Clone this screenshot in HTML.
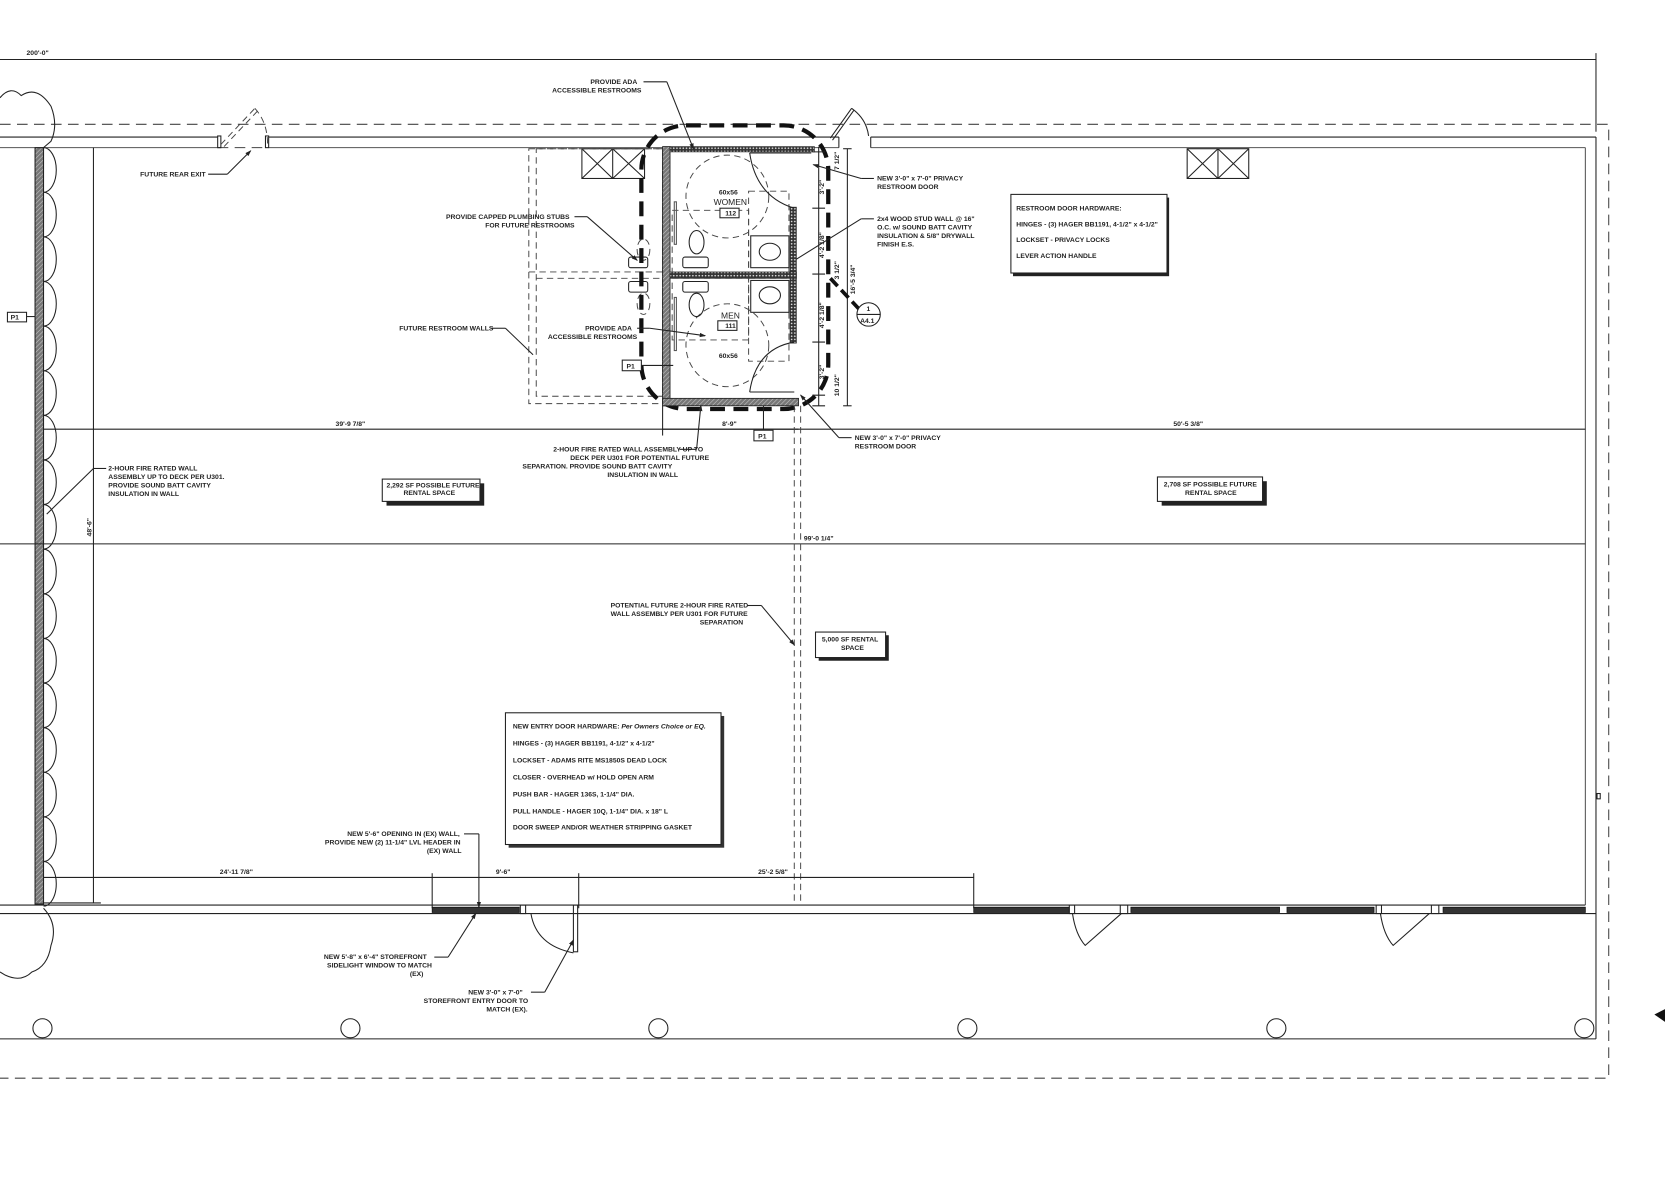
<!DOCTYPE html>
<html><head><meta charset="utf-8"><style>
html,body{margin:0;padding:0;background:#fff;}
svg{display:block;}
text{font-family:"Liberation Sans",sans-serif;font-size:6.4px;font-weight:bold;fill:#222;}
.s{stroke:#222;fill:none;stroke-width:1;}
.w{stroke:#222;fill:#fff;stroke-width:1;}
.g{stroke:#555;fill:none;stroke-width:1;}
.d{stroke:#444;fill:none;stroke-width:1;stroke-dasharray:10 6;}
.dt{stroke:#444;fill:none;stroke-width:0.9;stroke-dasharray:6 4;}
</style></head><body>
<svg width="1665" height="1177" viewBox="0 0 1568 1108" preserveAspectRatio="none" xmlns="http://www.w3.org/2000/svg">
<defs>
<pattern id="h" width="3" height="3" patternUnits="userSpaceOnUse" patternTransform="rotate(45)"><rect width="3" height="3" fill="#777"/><line x1="0" y1="0" x2="0" y2="3" stroke="#ccc" stroke-width="1"/></pattern>
<pattern id="dots" width="3" height="3" patternUnits="userSpaceOnUse"><rect width="3" height="3" fill="#333"/><circle cx="1.5" cy="1.5" r="0.8" fill="#ddd"/></pattern>
<marker id="ar" markerWidth="6" markerHeight="6" refX="5" refY="3" orient="auto"><path d="M0,1 L6,3 L0,5z" fill="#222"/></marker>
</defs>
<rect width="1568" height="1108" fill="#fff"/>

<line class="s" x1="0" y1="56" x2="1503" y2="56"/>
<line class="s" x1="1503" y1="50" x2="1503" y2="124"/>
<text x="25" y="52">200'-0"</text>

<path class="d" d="M0,117 H1515 V1015 H0"/>
<line class="s" x1="0" y1="129" x2="205" y2="129"/>
<line class="s" x1="253" y1="129" x2="790" y2="129"/>
<line class="s" x1="820" y1="129" x2="1503" y2="129"/>
<line class="g" x1="0" y1="139" x2="205" y2="139"/>
<line class="g" x1="253" y1="139" x2="790" y2="139"/>
<line class="g" x1="820" y1="139" x2="1493" y2="139"/>
<line class="d" x1="205" y1="139" x2="253" y2="139"/>
<line class="s" x1="1503" y1="129" x2="1503" y2="978"/>
<line class="g" x1="1493" y1="139" x2="1493" y2="852"/>
<rect class="s" x="205" y="128" width="3" height="11"/>
<rect class="s" x="250" y="128" width="3" height="11"/>
<line class="dt" x1="208" y1="136" x2="240" y2="102"/>
<line class="dt" x1="211" y1="138" x2="243" y2="104"/>
<path class="dt" d="M240,102 Q252,115 252,136"/>
<line class="s" x1="196" y1="164" x2="214" y2="164"/>
<line class="s" x1="214" y1="164" x2="236" y2="142" marker-end="url(#ar)"/>
<text x="132" y="166">FUTURE REAR EXIT</text>
<line class="s" x1="790" y1="129" x2="790" y2="139"/>
<line class="s" x1="820" y1="129" x2="820" y2="139"/>
<line class="s" x1="782" y1="130" x2="802" y2="102"/>
<line class="s" x1="784" y1="132" x2="804" y2="104"/>
<path class="s" d="M802,102 Q816,112 818,128"/>

<rect x="33" y="139" width="8" height="712" fill="url(#h)" stroke="#222" stroke-width="1"/>
<path class="s" d="M41,139 a12,21 0 0 1 0,42 a12,21 0 0 1 0,42 a12,21 0 0 1 0,42 a12,21 0 0 1 0,42 a12,21 0 0 1 0,42 a12,21 0 0 1 0,42 a12,21 0 0 1 0,42 a12,21 0 0 1 0,42 a12,21 0 0 1 0,42 a12,21 0 0 1 0,42 a12,21 0 0 1 0,42 a12,21 0 0 1 0,42 a12,21 0 0 1 0,42 a12,21 0 0 1 0,42 a12,21 0 0 1 0,42 a12,21 0 0 1 0,42 a12,21 0 0 1 0,42"/>
<path class="s" d="M0,92 Q10,80 20,90 Q35,80 48,100 Q55,118 48,133 L41,139"/>
<path class="s" d="M41,855 Q55,870 48,890 Q45,910 30,915 Q20,925 5,918 L0,915"/>
<rect class="w" x="7" y="294" width="18" height="9"/><text x="10" y="301">P1</text>
<line class="s" x1="25" y1="298" x2="33" y2="298"/>

<line class="s" x1="88" y1="139" x2="88" y2="850"/>
<text transform="translate(86,505) rotate(-90)">48'-6"</text>

<line class="s" x1="41" y1="404" x2="1493" y2="404"/>
<text x="316" y="401">39'-9 7/8"</text>
<text x="1105" y="401">50'-5 3/8"</text>
<line class="s" x1="0" y1="512" x2="1493" y2="512"/>
<text x="757" y="509">99'-0 1/4"</text>

<line class="s" x1="100" y1="441" x2="88" y2="441"/>
<line class="s" x1="88" y1="441" x2="44" y2="484"/>
<text x="102" y="443">2-HOUR FIRE RATED WALL</text>
<text x="102" y="451">ASSEMBLY UP TO DECK PER U301.</text>
<text x="102" y="459">PROVIDE SOUND BATT CAVITY</text>
<text x="102" y="467">INSULATION IN WALL</text>

<rect class="s" x="548" y="140" width="59" height="28"/>
<line class="s" x1="577" y1="140" x2="577" y2="168"/>
<path class="s" d="M548,140 L577,168 M577,140 L548,168 M577,140 L607,168 M607,140 L577,168"/>
<rect class="s" x="1118" y="140" width="58" height="28"/>
<line class="s" x1="1147" y1="140" x2="1147" y2="168"/>
<path class="s" d="M1118,140 L1147,168 M1147,140 L1118,168 M1147,140 L1176,168 M1176,140 L1147,168"/>

<rect class="dt" x="498" y="140" width="126" height="240"/>
<rect class="dt" x="505" y="140" width="119" height="233"/>
<line class="dt" x1="498" y1="256" x2="624" y2="256"/>
<line class="dt" x1="505" y1="262" x2="624" y2="262"/>
<ellipse cx="606" cy="235" rx="6" ry="10" class="dt"/>
<ellipse cx="606" cy="286" rx="6" ry="10" class="dt"/>
<rect class="s" x="592" y="242" width="18" height="10" rx="2"/>
<rect class="s" x="592" y="265" width="18" height="10" rx="2"/>

<rect x="604" y="118" width="176" height="267" rx="42" fill="none" stroke="#111" stroke-width="4" stroke-dasharray="14 8"/>
<rect x="624" y="138" width="7" height="244" fill="url(#h)" stroke="#222" stroke-width="0.8"/>
<rect x="624" y="375" width="128" height="7" fill="url(#h)" stroke="#222" stroke-width="0.8"/>
<rect x="631" y="138" width="136" height="5" fill="url(#dots)" stroke="#222" stroke-width="0.6"/>
<rect x="744" y="195" width="6" height="128" fill="url(#dots)" stroke="#222" stroke-width="0.6"/>
<rect x="631" y="256" width="119" height="6" fill="url(#dots)" stroke="#222" stroke-width="0.6"/>
<circle cx="685" cy="185" r="39" class="dt" stroke-width="0.6"/>
<rect class="dt" x="633" y="198" width="72" height="58" stroke-width="0.6"/>
<rect class="dt" x="705" y="180" width="38" height="78" stroke-width="0.6"/>
<ellipse class="s" cx="656" cy="228" rx="7" ry="11"/>
<rect class="s" x="643" y="242" width="24" height="10" rx="2"/>
<rect class="s" x="707" y="222" width="36" height="30"/>
<ellipse class="s" cx="725" cy="237" rx="10" ry="8"/>
<line class="s" x1="706" y1="144" x2="764" y2="144"/>
<path class="s" d="M706,144 Q712,185 748,196"/>
<rect class="g" x="635" y="190" width="2" height="40"/>
<text x="677" y="183">60x56</text>
<text x="672" y="193" style="font-size:8px;font-weight:normal">WOMEN</text>
<rect class="w" x="678" y="196" width="18" height="9"/><text x="683" y="203">112</text>
<circle cx="685" cy="325" r="39" class="dt" stroke-width="0.6"/>
<rect class="dt" x="633" y="262" width="72" height="58" stroke-width="0.6"/>
<rect class="dt" x="705" y="262" width="38" height="78" stroke-width="0.6"/>
<ellipse class="s" cx="656" cy="287" rx="7" ry="11"/>
<rect class="s" x="643" y="265" width="24" height="10" rx="2"/>
<rect class="s" x="707" y="264" width="36" height="30"/>
<ellipse class="s" cx="725" cy="278" rx="10" ry="8"/>
<line class="s" x1="706" y1="369" x2="748" y2="369"/>
<path class="s" d="M706,369 Q712,328 748,322"/>
<rect class="g" x="635" y="280" width="2" height="50"/>
<text x="679" y="300" style="font-size:8px;font-weight:normal">MEN</text>
<rect class="w" x="676" y="302" width="18" height="9"/><text x="683" y="309">111</text>
<text x="677" y="337">60x56</text>
<rect class="w" x="586" y="339" width="18" height="10"/><text x="590" y="347">P1</text>
<line class="s" x1="604" y1="344" x2="634" y2="344"/>
<rect class="w" x="710" y="405" width="18" height="10"/><text x="714" y="413">P1</text>
<line class="s" x1="719" y1="382" x2="719" y2="405"/>

<line class="s" x1="771" y1="138" x2="771" y2="382"/>
<path class="s" d="M765,143 H777 M765,196 H777 M765,258 H777 M765,322 H777 M765,372 H777 M765,382 H777"/>
<text transform="translate(790,160) rotate(-90)">7 1/2"</text>
<text transform="translate(776,183) rotate(-90)">3'-2"</text>
<text transform="translate(776,243) rotate(-90)">4'-2 1/8"</text>
<text transform="translate(776,309) rotate(-90)">4'-2 1/8"</text>
<text transform="translate(776,357) rotate(-90)">3'-2"</text>
<text transform="translate(790,263) rotate(-90)">3 1/2"</text>
<text transform="translate(790,373) rotate(-90)">10 1/2"</text>
<line class="s" x1="798" y1="140" x2="798" y2="382"/>
<line class="s" x1="794" y1="140" x2="802" y2="140"/><line class="s" x1="794" y1="382" x2="802" y2="382"/>
<text transform="translate(805,277) rotate(-90)">16'-5 3/4"</text>
<line x1="782" y1="262" x2="810" y2="292" stroke="#111" stroke-width="3.5" stroke-dasharray="10 5"/>
<circle class="w" cx="818" cy="296" r="11"/>
<line class="s" x1="807" y1="296" x2="829" y2="296"/>
<text x="816" y="293">1</text><text x="810" y="304">A4.1</text>
<line class="s" x1="624" y1="382" x2="624" y2="410"/>
<line class="s" x1="624" y1="404" x2="752" y2="404"/>
<text x="680" y="401">8'-9"</text>

<text x="556" y="79">PROVIDE ADA</text>
<text x="520" y="87">ACCESSIBLE RESTROOMS</text>
<line class="s" x1="606" y1="77" x2="628" y2="77"/>
<line class="s" x1="628" y1="77" x2="653" y2="140" marker-end="url(#ar)"/>
<text x="420" y="206">PROVIDE CAPPED PLUMBING STUBS</text>
<text x="457" y="214">FOR FUTURE RESTROOMS</text>
<line class="s" x1="541" y1="204" x2="553" y2="204"/>
<line class="s" x1="553" y1="204" x2="600" y2="245" marker-end="url(#ar)"/>
<text x="376" y="311">FUTURE RESTROOM WALLS</text>
<line class="s" x1="462" y1="309" x2="476" y2="309"/>
<line class="s" x1="476" y1="309" x2="502" y2="334"/>
<text x="551" y="311">PROVIDE ADA</text>
<text x="516" y="319">ACCESSIBLE RESTROOMS</text>
<line class="s" x1="600" y1="309" x2="612" y2="309"/>
<line class="s" x1="612" y1="309" x2="664" y2="316" marker-end="url(#ar)"/>
<text x="826" y="170">NEW 3'-0" x 7'-0" PRIVACY</text>
<text x="826" y="178">RESTROOM DOOR</text>
<line class="s" x1="823" y1="168" x2="811" y2="168"/>
<line class="s" x1="811" y1="168" x2="766" y2="155" marker-end="url(#ar)"/>
<text x="826" y="208">2x4 WOOD STUD WALL @ 16"</text>
<text x="826" y="216">O.C. w/ SOUND BATT CAVITY</text>
<text x="826" y="224">INSULATION &amp; 5/8" DRYWALL</text>
<text x="826" y="232">FINISH E.S.</text>
<line class="s" x1="823" y1="206" x2="811" y2="206"/>
<line class="s" x1="811" y1="206" x2="750" y2="244"/>
<text x="805" y="414">NEW 3'-0" x 7'-0" PRIVACY</text>
<text x="805" y="422">RESTROOM DOOR</text>
<line class="s" x1="802" y1="412" x2="790" y2="412"/>
<line class="s" x1="790" y1="412" x2="754" y2="372" marker-end="url(#ar)"/>
<text x="521" y="425">2-HOUR FIRE RATED WALL ASSEMBLY UP TO</text>
<text x="537" y="433">DECK PER U301 FOR POTENTIAL FUTURE</text>
<text x="492" y="441">SEPARATION. PROVIDE SOUND BATT CAVITY</text>
<text x="572" y="449">INSULATION IN WALL</text>
<line class="s" x1="640" y1="423" x2="656" y2="423"/>
<line class="s" x1="656" y1="423" x2="660" y2="382" marker-end="url(#ar)"/>

<rect x="954" y="186" width="147" height="74" fill="#222"/>
<rect class="w" x="952" y="183" width="147" height="74"/>
<text x="957" y="198">RESTROOM DOOR HARDWARE:</text>
<text x="957" y="213">HINGES - (3) HAGER BB1191, 4-1/2" x 4-1/2"</text>
<text x="957" y="228">LOCKSET - PRIVACY LOCKS</text>
<text x="957" y="243">LEVER ACTION HANDLE</text>

<rect x="364" y="455" width="92" height="21" fill="#222"/>
<rect class="w" x="360" y="451" width="92" height="21"/>
<text x="364" y="459">2,292 SF POSSIBLE FUTURE</text><text x="380" y="466">RENTAL SPACE</text>
<rect x="1094" y="453" width="99" height="23" fill="#222"/>
<rect class="w" x="1090" y="449" width="99" height="23"/>
<text x="1096" y="458">2,708 SF POSSIBLE FUTURE</text><text x="1116" y="466">RENTAL SPACE</text>
<rect x="771" y="598" width="66" height="24" fill="#222"/>
<rect class="w" x="768" y="595" width="66" height="24"/>
<text x="774" y="604">5,000 SF RENTAL</text><text x="792" y="612">SPACE</text>

<line class="dt" x1="748" y1="382" x2="748" y2="852"/>
<line class="dt" x1="754" y1="382" x2="754" y2="852"/>
<text x="575" y="572">POTENTIAL FUTURE 2-HOUR FIRE RATED</text>
<text x="575" y="580">WALL ASSEMBLY PER U301 FOR FUTURE</text>
<text x="659" y="588">SEPARATION</text>
<line class="s" x1="704" y1="570" x2="717" y2="570"/>
<line class="s" x1="717" y1="570" x2="748" y2="607" marker-end="url(#ar)"/>

<rect x="479" y="674" width="203" height="124" fill="#333"/>
<rect class="w" x="476" y="671" width="203" height="124"/>
<text x="483" y="686">NEW ENTRY DOOR HARDWARE: <tspan font-style="italic">Per Owners Choice or EQ.</tspan></text>
<text x="483" y="702">HINGES - (3) HAGER BB1191, 4-1/2" x 4-1/2"</text>
<text x="483" y="718">LOCKSET - ADAMS RITE MS1850S DEAD LOCK</text>
<text x="483" y="734">CLOSER - OVERHEAD w/ HOLD OPEN ARM</text>
<text x="483" y="750">PUSH BAR - HAGER 136S, 1-1/4" DIA.</text>
<text x="483" y="766">PULL HANDLE - HAGER 10Q, 1-1/4" DIA. x 18" L</text>
<text x="483" y="781">DOOR SWEEP AND/OR WEATHER STRIPPING GASKET</text>

<line class="s" x1="41" y1="826" x2="917" y2="826"/>
<text x="207" y="823">24'-11 7/8"</text>
<text x="467" y="823">9'-6"</text>
<text x="714" y="823">25'-2 5/8"</text>
<line class="s" x1="407" y1="822" x2="407" y2="855"/>
<line class="s" x1="545" y1="822" x2="545" y2="855"/>
<line class="s" x1="917" y1="822" x2="917" y2="855"/>
<line class="s" x1="41" y1="850" x2="95" y2="850"/>
<text x="327" y="787">NEW 5'-6" OPENING IN (EX) WALL,</text>
<text x="306" y="795">PROVIDE NEW (2) 11-1/4" LVL HEADER IN</text>
<text x="402" y="803">(EX) WALL</text>
<line class="s" x1="437" y1="785" x2="451" y2="785"/>
<line class="s" x1="451" y1="785" x2="451" y2="854" marker-end="url(#ar)"/>

<line class="s" x1="0" y1="852" x2="1493" y2="852"/>
<line class="s" x1="0" y1="860" x2="1503" y2="860"/>
<rect x="407" y="854" width="82" height="5" fill="#333" stroke="#111" stroke-width="0.7"/>
<rect x="917" y="854" width="90" height="5" fill="#333" stroke="#111" stroke-width="0.7"/>
<rect x="1065" y="854" width="140" height="5" fill="#333" stroke="#111" stroke-width="0.7"/>
<rect x="1212" y="854" width="82" height="5" fill="#333" stroke="#111" stroke-width="0.7"/>
<rect x="1359" y="854" width="134" height="5" fill="#333" stroke="#111" stroke-width="0.7"/>
<rect class="s" x="490" y="852" width="5" height="8"/>
<rect class="s" x="1007" y="852" width="5" height="8"/><rect class="s" x="1055" y="852" width="7" height="8"/>
<rect class="s" x="1296" y="852" width="5" height="8"/><rect class="s" x="1348" y="852" width="7" height="8"/>
<rect class="s" x="540" y="852" width="4" height="44"/>
<path class="s" d="M500,860 Q505,890 540,897"/>
<path class="s" d="M1010,860 Q1013,880 1022,890 L1056,860"/>
<path class="s" d="M1300,860 Q1303,880 1312,890 L1346,860"/>
<text x="305" y="903">NEW 5'-8" x 6'-4" STOREFRONT</text>
<text x="308" y="911">SIDELIGHT WINDOW TO MATCH</text>
<text x="386" y="919">(EX)</text>
<line class="s" x1="409" y1="901" x2="422" y2="901"/>
<line class="s" x1="422" y1="901" x2="448" y2="860" marker-end="url(#ar)"/>
<text x="441" y="936">NEW 3'-0" x 7'-0"</text>
<text x="399" y="944">STOREFRONT ENTRY DOOR TO</text>
<text x="458" y="952">MATCH (EX).</text>
<line class="s" x1="500" y1="934" x2="513" y2="934"/>
<line class="s" x1="513" y1="934" x2="540" y2="885" marker-end="url(#ar)"/>

<line class="s" x1="0" y1="978" x2="1503" y2="978"/>
<circle class="s" cx="40" cy="968" r="9"/>
<circle class="s" cx="330" cy="968" r="9"/>
<circle class="s" cx="620" cy="968" r="9"/>
<circle class="s" cx="911" cy="968" r="9"/>
<circle class="s" cx="1202" cy="968" r="9"/>
<circle class="s" cx="1492" cy="968" r="9"/>
<rect class="s" x="1504" y="747" width="3" height="5"/>
<path d="M1558,955 L1568,950 L1568,962z" fill="#111"/>
</svg>
</body></html>
